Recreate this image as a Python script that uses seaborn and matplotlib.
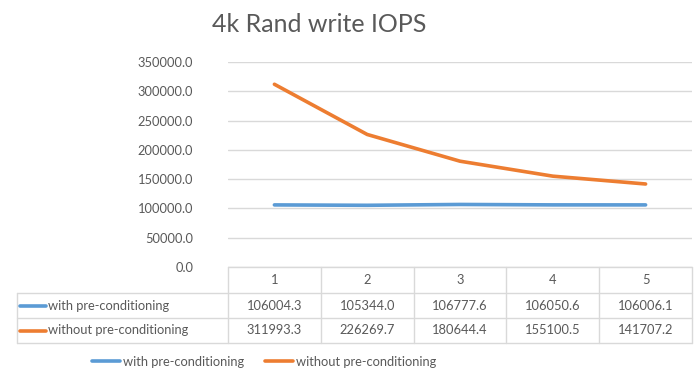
import matplotlib
matplotlib.use('Agg')
import matplotlib.pyplot as plt
from matplotlib.lines import Line2D
from matplotlib.ticker import FuncFormatter
import pandas as pd
import seaborn as sns

runs = [1, 2, 3, 4, 5]
with_pre = [106004.3, 105344.0, 106777.6, 106050.6, 106006.1]
without_pre = [311993.3, 226269.7, 180644.4, 155100.5, 141707.2]
series_names = ['with pre-conditioning', 'without pre-conditioning']
colors = ['#5B9BD5', '#ED7D31']

df = pd.DataFrame({
    'pos': list(range(len(runs))) * 2,
    'iops': with_pre + without_pre,
    'series': [series_names[0]] * len(runs) + [series_names[1]] * len(runs),
})

sns.set_style('white')
plt.rcParams['font.family'] = ['Lato', 'DejaVu Sans']
text_col = '#595959'
grid_col = '#D9D9D9'
fs = 9.3

fig = plt.figure(figsize=(7, 3.8), dpi=100)
W, H = 700, 380
ax = fig.add_axes([228 / W, 1 - 267 / H, 464 / W, 205 / H])

sns.lineplot(data=df, x='pos', y='iops', hue='series', palette=colors,
             linewidth=2.6, legend=False, ax=ax)

ax.set_xlim(-0.5, len(runs) - 0.5)
ax.set_ylim(0, 350000)
ax.set_yticks(range(0, 350001, 50000))
ax.yaxis.set_major_formatter(FuncFormatter(lambda v, p: f'{v:.1f}'))
ax.set_xticks([])
ax.tick_params(axis='y', length=0, labelsize=fs, colors=text_col, pad=25)
ax.grid(axis='y', color=grid_col, linewidth=1)
for s in ax.spines.values():
    s.set_visible(False)
ax.set_xlabel('')
ax.set_ylabel('')

# data table under the plot
ax_w = 464.0
row_h = [0, -26 / 205, -51 / 205, -76 / 205]
left = (17 - 228) / ax_w
tr = ax.get_xaxis_transform()
kw = dict(color=grid_col, linewidth=1, clip_on=False)
ax.plot([-0.5, len(runs) - 0.5], [0, 0], transform=tr, **kw)
for y in row_h[1:]:
    ax.plot([left, 1], [y, y], transform=ax.transAxes, **kw)
for i in range(len(runs) + 1):
    ax.plot([i - 0.5, i - 0.5], [0, row_h[-1]], transform=tr, **kw)
ax.plot([left, left], [row_h[1], row_h[-1]], transform=ax.transAxes, **kw)

for i, r in enumerate(runs):
    ax.text(i, (row_h[0] + row_h[1]) / 2, str(r), transform=tr,
            ha='center', va='center', fontsize=fs, color=text_col)
    for k, vals in enumerate([with_pre, without_pre]):
        ax.text(i, (row_h[k + 1] + row_h[k + 2]) / 2, f'{vals[i]:.1f}',
                transform=tr, ha='center', va='center', fontsize=fs, color=text_col)

for k, name in enumerate(series_names):
    yc = (row_h[k + 1] + row_h[k + 2]) / 2
    ax.plot([(20 - 228) / ax_w, (46 - 228) / ax_w], [yc, yc], transform=ax.transAxes,
            color=colors[k], linewidth=2.6, clip_on=False, solid_capstyle='round')
    ax.text((48 - 228) / ax_w, yc, name, transform=ax.transAxes, ha='left',
            va='center', fontsize=fs, color=text_col)

handles = [Line2D([0], [0], color=c, linewidth=2.6) for c in colors]
fig.legend(handles, series_names, loc='center', bbox_to_anchor=(264 / W, 1 - 362 / H),
           ncol=2, frameon=False, fontsize=fs, labelcolor=text_col,
           handlelength=2.2, handletextpad=0.2, columnspacing=1.6)

fig.text(319 / W, 1 - 25 / H, '4k Rand write IOPS', ha='center', va='center',
         fontsize=18, color=text_col)

fig.savefig('out.png', dpi=100)
